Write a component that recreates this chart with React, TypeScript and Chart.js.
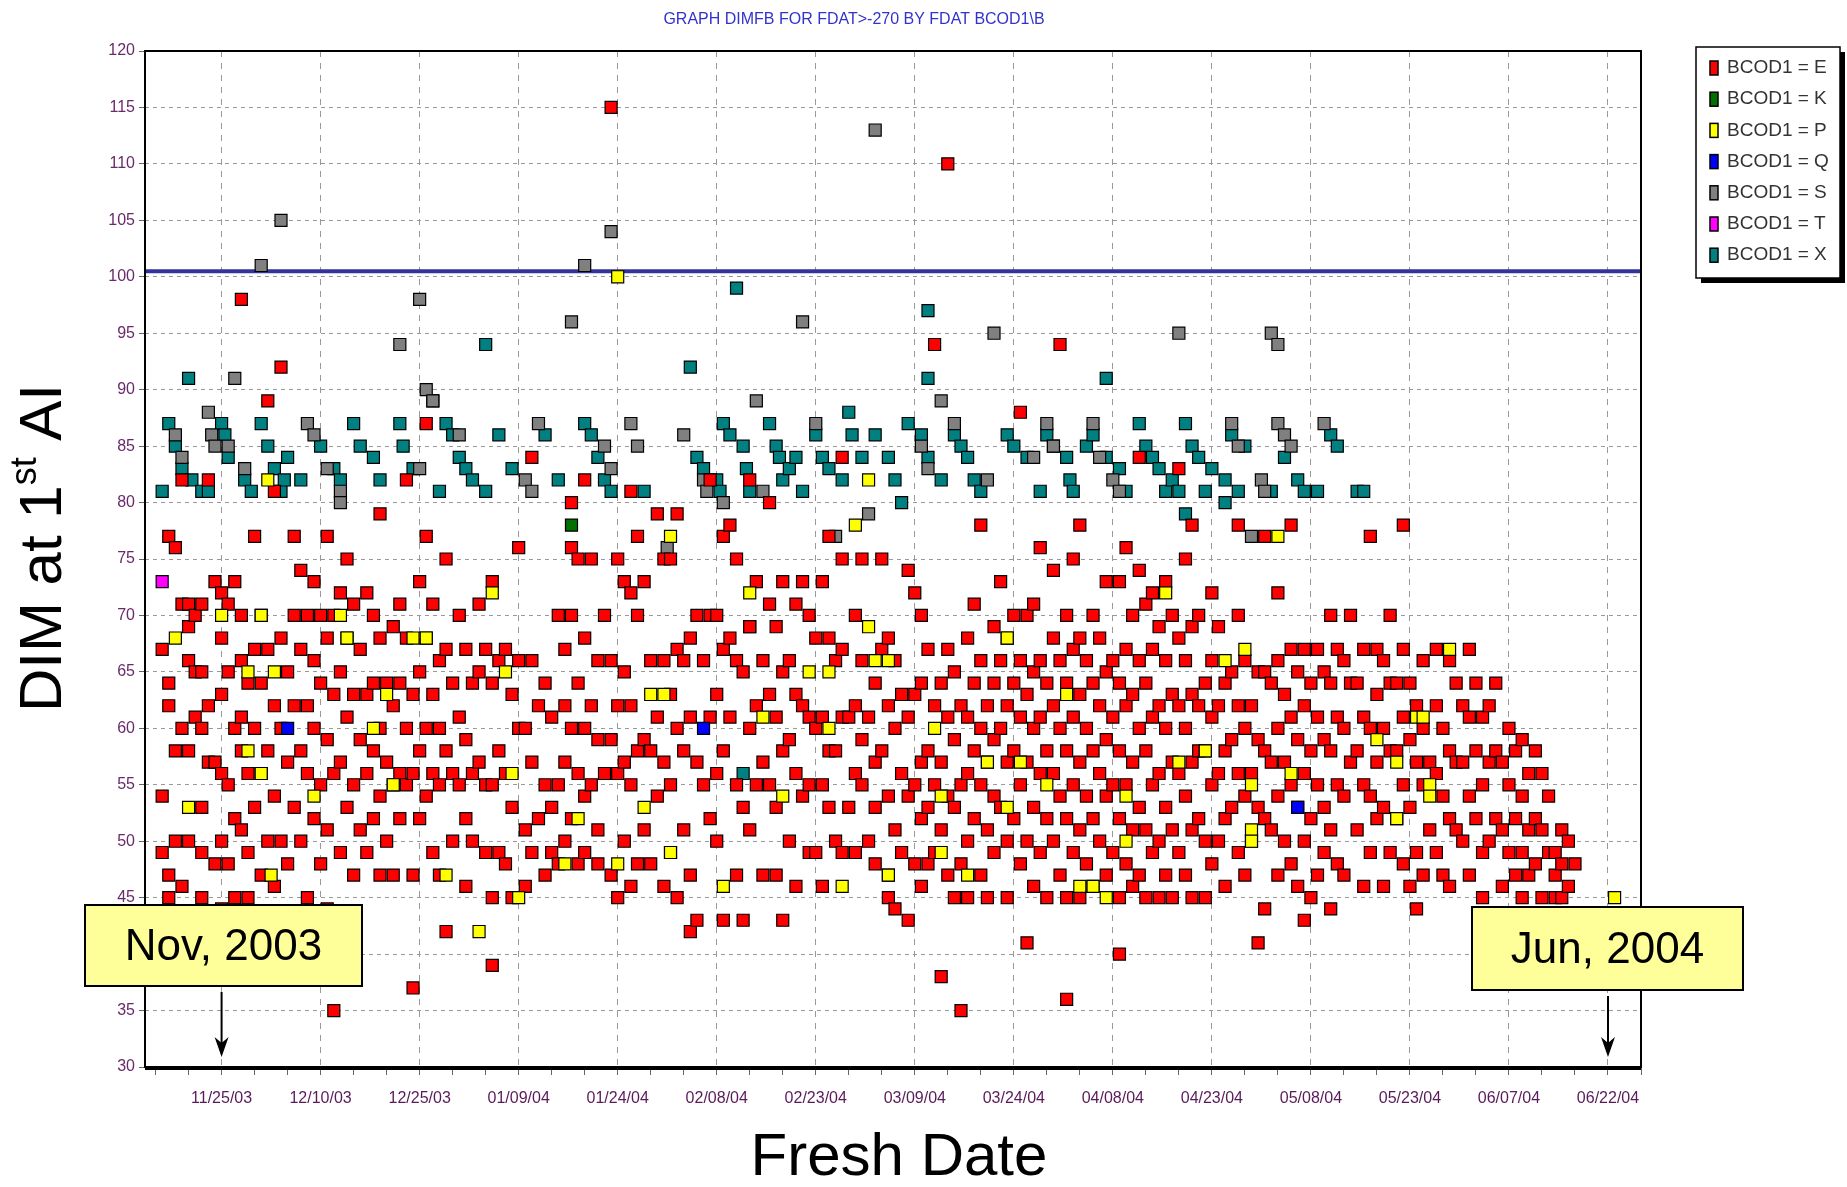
import React, { useEffect, useRef } from "react";
import { Chart, registerables } from "chart.js";
Chart.register(...registerables);

// x = days after 11/25/03, y = DIM at 1st AI
const seriesNames = ["BCOD1 = E", "BCOD1 = K", "BCOD1 = P", "BCOD1 = Q", "BCOD1 = S", "BCOD1 = T", "BCOD1 = X"];
const seriesColors = ["#ff0000", "#007000", "#ffff00", "#0000ff", "#808080", "#ff00ff", "#008080"];

// E values grouped by day column
const eColumns: [number, number[]][] = [
  [-9,[67,54,49]],[-8,[77,64,62,47,45]],[-7,[76,58,50]],[-6,[71,60,46,82]],[-5,[71,66,58,50,69]],[-4,[70,65,61]],
  [-3,[71,65,60,53,49,45]],[-2,[62,57,82]],[-1,[73,57,48]],[0,[72,68,63,56,50,44]],[1,[71,65,55,48]],[2,[73,60,52,45]],
  [3,[98,70,66,61,58,51]],[4,[64,56,49,45]],[5,[77,67,60,53]],[6,[70,64,56,47]],[7,[89,67,58,50]],[8,[81,62,54,46]],
  [9,[92,68,60,50]],[10,[65,57,48]],[11,[77,70,62,53]],[12,[74,67,58,50]],[13,[70,62,56,45]],[14,[73,66,60,52]],
  [15,[70,64,55,48]],[16,[77,68,59,51,44]],[17,[35,70,63,56]],[18,[72,65,57,49]],[19,[75,68,61,53]],[20,[71,63,55,47]],
  [21,[67,59,51]],[22,[72,63,56,49]],[23,[70,64,58,52]],[24,[79,68,60,54,47]],[25,[64,57,50]],[26,[69,62,55,47]],
  [27,[71,64,56,52]],[28,[82,68,60,55]],[29,[37,63,56,47]],[30,[73,65,58,52]],[31,[87,77,68,60,54]],[32,[71,63,56,49]],
  [33,[66,60,55,47]],[34,[42,75,67,58]],[35,[64,56,50]],[36,[70,61,55]],[37,[67,59,52,46]],[38,[64,56,50]],
  [39,[71,65,57]],[40,[67,55,49]],[41,[39,73,64,55,45]],[42,[66,58,49]],[43,[67,56,48]],[44,[63,53,45]],
  [45,[76,66,60]],[46,[60,51,46]],[47,[84,66,57,49]],[48,[62,52]],[49,[64,55,47]],[50,[61,53,49]],
  [51,[70,55,48]],[52,[67,62,57,50]],[53,[80,76,70,60,52]],[54,[75,64,56,48]],[55,[82,68,60,54,49]],[56,[75,62,55]],
  [57,[66,59,51,48]],[58,[70,56]],[59,[115,66,59,47]],[60,[75,62,56,45]],[61,[73,65,57,50]],[62,[81,72,62,55,46]],
  [63,[77,70,58,48]],[64,[73,59,51]],[65,[66,58,48]],[66,[79,61,54]],[67,[75,66,57,46]],[68,[75,63,55,49]],
  [69,[79,67,60,45]],[70,[66,58,51]],[71,[68,61,42,47]],[72,[70,57,43]],[73,[66,55]],[74,[82,70,61,52]],
  [75,[70,63,56,50]],[76,[77,67,58,43]],[77,[78,68,61]],[78,[75,66,55,47]],[79,[65,53,43]],[80,[82,69,60,51]],
  [81,[73,62,55]],[82,[66,57,47]],[83,[80,71,63,55]],[84,[69,61,53,47]],[85,[73,65,58,43]],[86,[66,59,50]],
  [87,[71,63,56,46]],[88,[73,62,54]],[89,[70,61,55,49]],[90,[68,60,49]],[91,[73,61,55,46]],[92,[77,68,58,53]],
  [93,[66,58,50]],[94,[84,75,67,61,49]],[95,[61,53]],[96,[70,62,56,49]],[97,[75,66,59,55]],[98,[61,50]],
  [99,[64,57,53,48]],[100,[75,67,58]],[101,[68,62,54,47,45]],[102,[66,60,51,44]],[103,[63,56,49]],[104,[74,61,54,43]],
  [105,[72,63,55,48]],[106,[70,64,57,52,46]],[107,[67,58,53,48]],[108,[94,62,55,49]],[109,[38,64,57,51]],[110,[110,67,61,54,47]],
  [111,[65,59,53,45]],[112,[35,62,55,48]],[113,[68,61,56,50,45]],[114,[71,64,58,52]],[115,[78,66,60,55,47]],[116,[62,57,51,45]],
  [117,[69,64,59,54,49]],[118,[73,66,60,53]],[119,[68,62,57,50,45]],[120,[70,64,58,52]],[121,[88,66,61,55,48]],[122,[41,70,63,57,50]],
  [123,[71,65,60,53,46]],[124,[76,66,61,56,49]],[125,[64,58,52,45]],[126,[74,68,62,56,50]],[127,[94,66,60,54,47]],[128,[36,70,64,58,52,45]],
  [129,[75,67,61,55,49]],[130,[78,68,63,57,51,45]],[131,[66,60,54,48]],[132,[70,64,58,52,46]],[133,[68,62,56,50]],[134,[73,65,59,54,47]],
  [135,[66,61,55,49]],[136,[40,73,64,58,52,45]],[137,[76,67,62,55,48]],[138,[70,63,57,51,46]],[139,[84,74,66,60,53,47]],[140,[71,64,58,51,45]],
  [141,[72,67,61,55,49]],[142,[69,62,56,50,45]],[143,[73,66,60,53,47]],[144,[70,63,57,51,45]],[145,[83,68,62,56,49]],[146,[75,66,60,54,47]],
  [147,[78,69,63,57,51,45]],[148,[70,62,58,52]],[149,[64,58,50,45]],[150,[72,66,61,55,48]],[151,[69,62,56,50]],[152,[64,58,52,46]],
  [153,[65,59,53]],[154,[78,70,62,56,49]],[155,[66,60,54,47]],[156,[62,56,50]],[157,[41,65,59,53]],[158,[77,65,58,52,44]],
  [159,[64,57,51]],[160,[72,66,60,54,47]],[161,[63,57,50]],[162,[78,67,61,55,48]],[163,[65,59,53,46]],[164,[67,62,56,50,43]],
  [165,[64,58,52,45]],[166,[67,61,55,47]],[167,[65,59,53,49]],[168,[70,64,58,51,44]],[169,[67,61,55,48]],[170,[66,60,54,47]],
  [171,[70,64,57]],[172,[64,58,51]],[173,[67,61,55,46]],[174,[77,60,54,49]],[175,[67,63,57,52]],[176,[66,60,53,46]],
  [177,[70,64,58,49]],[178,[64,58,52]],[179,[78,67,61,55,48]],[180,[64,59,53,46]],[181,[62,57,49,44]],[182,[66,60,55,47]],
  [183,[57,51]],[184,[67,62,56,49]],[185,[60,54,47]],[186,[66,58,52,46]],[187,[64,57,51]],[188,[62,57,50]],
  [189,[67,61,54,47]],[190,[64,58,52]],[191,[61,55,49,45]],[192,[62,57,50]],[193,[64,58,52]],[194,[57,51,46]],
  [195,[60,55,49]],[196,[58,52,47]],[197,[59,54,49,45]],[198,[56,51,47]],[199,[58,52,48]],[200,[56,51,45]],
  [201,[54,49]],[202,[49,47,45]],[203,[51,48,45]],[204,[50,46]],[205,[48]],
];
const kPoints: [number, number][] = [[53,78]];
const pPoints: [number, number][] = [
  [-7,68],[-5,53],[0,70],[4,65],[4,58],[6,70],[7,82],[8,65],[7.5,47],[6,56],[14,54],[18,70],[19,68],[23,60],[25,63],[26,55],
  [29,68],[31,68],[34,47],[39,42],[41,72],[43,65],[44,56],[45,45],[52,48],[54,52],[60,100],[60,48],[64,53],[65,63],[67,63],
  [68,49],[68,77],[76,46],[80,72],[82,61],[85,54],[89,65],[92,65],[92,60],[94,46],[96,78],[98,82],[98,69],[99,66],[101,66],
  [101,47],[108,60],[109,54],[109,49],[113,47],[116,57],[119,68],[119,53],[121,57],[125,55],[128,63],[130,46],[132,46],[134,45],
  [137,54],[137,50],[143,72],[145,57],[149,58],[152,66],[155,67],[156,55],[156,51],[156,50],[160,77],[162,56],[175,59],[178,52],
  [181,61],[182,61],[183,55],[183,54],[186,67],[211,45],[178,57],
];
const qPoints: [number, number][] = [[10,60],[73,60],[163,53]];
const sPoints: [number, number][] = [
  [-7,86],[-6,84],[-2,88],[-1.5,86],[-1,85],[1,85],[2,91],[3.5,83],[6,101],[9,105],[13,87],[14,86],[16,83],[18,81],[18,80],
  [27,94],[30,98],[31,90],[32,89],[30,83],[36,86],[48,87],[46,82],[47,81],[53,96],[55,101],[59,104],[58,85],[59,83],[62,87],
  [63,85],[67.5,76],[70,86],[73,82],[73.5,81],[76,80],[80,69],[81,89],[82,81],[88,96],[90,87],[93,77],[99,113],[98,79],
  [106,85],[107,83],[109,89],[111,87],[116,82],[117,95],[123,84],[125,87],[126,85],[132,87],[133,84],[135,82],[136,81],
  [145,95],[153,87],[154,85],[156,77],[157.5,82],[158,81],[159,95],[160,87],[160,94],[161,86],[162,85],[167,87],
];
const tPoints: [number, number][] = [[-9,73]];
const xPoints: [number, number][] = [
  [-9,81],[-8,87],[-7,85],[-6,83],[-5,91],[-4.5,82],[-3,81],[-2,81],[0,87],[0.5,86],[1,84],[3.5,82],[4.5,81],[6,87],[7,85],
  [8,83],[9,81],[9.5,82],[10,84],[12,82],[15,85],[17,83],[18,82],[20,87],[21,85],[23,84],[24,82],[27,87],[27.5,85],[29,83],
  [32,89],[33,81],[34,87],[35,86],[36,84],[37,83],[38,82],[40,81],[40,94],[42,86],[44,83],[49,86],[51,82],[55,87],[56,86],
  [57,84],[58,82],[59,81],[64,81],[71,92],[72,84],[73,83],[75,82],[75.5,81],[76,87],[77,86],[78,99],[79,85],[79.5,83],[80,81],
  [83,87],[84,85],[84.5,84],[85,82],[86,83],[87,84],[88,81],[90,86],[91,84],[92,83],[94,82],[95,88],[95.5,86],[97,84],[99,86],
  [101,84],[102,82],[103,80],[104,87],[106,86],[107,84],[107,97],[107,91],[109,82],[111,86],[112,85],[113,84],[114,82],[115,81],
  [119,86],[120,85],[122,84],[124,81],[125,86],[126,85],[128,84],[128.5,82],[129,81],[131,85],[132,86],[134,91],[134,84],[136,83],
  [137,81],[139,87],[140,85],[141,84],[142,83],[143,81],[144,82],[145,81],[146,87],[146,79],[147,85],[148,84],[149,81],[150,83],
  [152,80],[152,82],[153,86],[154,81],[155,85],[159,81],[161,84],[163,82],[164,81],[166,81],[168,86],[169,85],[172,81],[173,81],[79,56],
];
const xTickDays = [0, 15, 30, 45, 60, 75, 90, 105, 120, 135, 150, 165, 180, 195, 210];
const refLine = 100.5;
const titleText = "GRAPH DIMFB FOR FDAT>-270 BY FDAT BCOD1\\B";

const ePoints: [number, number][] = eColumns.flatMap(([d, vs]) => vs.map((v) => [d, v] as [number, number]));
const allSeries = [ePoints, kPoints, pPoints, qPoints, sPoints, tPoints, xPoints];

function fmtDate(day: number) {
  const d = new Date(2003, 10, 25 + day);
  const p = (n: number) => String(n).padStart(2, "0");
  return `${p(d.getMonth() + 1)}/${p(d.getDate())}/${p(d.getFullYear() % 100)}`;
}

export default function App() {
  const ref = useRef<HTMLCanvasElement>(null);
  useEffect(() => {
    const overlay = {
      id: "overlay",
      beforeDatasetsDraw(chart: any) {
        const { ctx, chartArea: a, scales } = chart;
        const y = scales.y.getPixelForValue(refLine);
        ctx.save();
        ctx.strokeStyle = "#333399"; ctx.lineWidth = 4;
        ctx.beginPath(); ctx.moveTo(a.left, y); ctx.lineTo(a.right, y); ctx.stroke();
        ctx.restore();
      },
      afterDraw(chart: any) {
        const { ctx, chartArea: a, scales } = chart;
        ctx.save();
        ctx.strokeStyle = "#000"; ctx.lineWidth = 2;
        ctx.strokeRect(a.left, a.top, a.right - a.left, a.bottom - a.top);
        ctx.lineWidth = 4;
        ctx.beginPath(); ctx.moveTo(a.left, a.bottom + 1); ctx.lineTo(a.right, a.bottom + 1); ctx.stroke();
        ctx.fillStyle = "#3333cc"; ctx.font = "16px 'Liberation Sans', Arial"; ctx.textAlign = "center"; ctx.textBaseline = "middle";
        ctx.fillText(titleText, 854, 20);
        ctx.fillStyle = "#000"; ctx.font = "60px 'Liberation Sans', Arial";
        ctx.fillText("Fresh Date", 899, 1158);
        ctx.save();
        ctx.translate(44, 548); ctx.rotate(-Math.PI / 2);
        ctx.textAlign = "left";
        const p1 = "DIM at 1", sup = "st", p2 = " AI";
        ctx.font = "60px 'Liberation Sans', Arial";
        const w1 = ctx.measureText(p1).width, w3 = ctx.measureText(p2).width;
        ctx.font = "36px 'Liberation Sans', Arial";
        const w2 = ctx.measureText(sup).width;
        let x0 = -(w1 + w2 + w3) / 2;
        ctx.font = "60px 'Liberation Sans', Arial"; ctx.fillText(p1, x0, 0); x0 += w1;
        ctx.font = "36px 'Liberation Sans', Arial"; ctx.fillText(sup, x0, -18); x0 += w2;
        ctx.font = "60px 'Liberation Sans', Arial"; ctx.fillText(p2, x0, 0);
        ctx.restore();
        ctx.fillStyle = "#000"; ctx.fillRect(1701, 52, 144, 231);
        ctx.fillStyle = "#fff"; ctx.fillRect(1696, 47, 144, 231);
        ctx.strokeStyle = "#000"; ctx.lineWidth = 1.5; ctx.strokeRect(1696, 47, 144, 231);
        ctx.font = "19px 'Liberation Sans', Arial"; ctx.textAlign = "left";
        seriesNames.forEach((n, i) => {
          const cy = 68 + i * 31.2;
          ctx.fillStyle = seriesColors[i]; ctx.fillRect(1710, cy - 7, 8, 14);
          ctx.strokeStyle = "#000"; ctx.lineWidth = 1.5; ctx.strokeRect(1710, cy - 7, 8, 14);
          ctx.fillStyle = "#333"; ctx.fillText(n, 1727, cy);
        });
        const boxes = [
          { t: "Nov, 2003", x: 85, y: 905, w: 277, h: 81, day: 0 },
          { t: "Jun, 2004", x: 1472, y: 907, w: 271, h: 83, day: 210 },
        ];
        boxes.forEach((b) => {
          ctx.fillStyle = "#ffff99"; ctx.fillRect(b.x, b.y, b.w, b.h);
          ctx.strokeStyle = "#000"; ctx.lineWidth = 2; ctx.strokeRect(b.x, b.y, b.w, b.h);
          ctx.fillStyle = "#000"; ctx.font = "44px 'Liberation Sans', Arial"; ctx.textAlign = "center";
          ctx.fillText(b.t, b.x + b.w / 2, b.y + b.h / 2 + 2);
          const ax = scales.x.getPixelForValue(b.day);
          ctx.lineWidth = 2;
          ctx.beginPath(); ctx.moveTo(ax, b.y + b.h + 6); ctx.lineTo(ax, a.bottom - 14); ctx.stroke();
          ctx.beginPath(); ctx.moveTo(ax, a.bottom - 10); ctx.lineTo(ax - 7, a.bottom - 30); ctx.lineTo(ax, a.bottom - 24); ctx.lineTo(ax + 7, a.bottom - 30); ctx.closePath();
          ctx.fill();
        });
        ctx.restore();
      },
    };
    const chart = new Chart(ref.current!, {
      type: "scatter",
      data: {
        datasets: allSeries.map((pts, i) => ({
          label: seriesNames[i],
          data: pts.map(([x, y]) => ({ x, y })),
          backgroundColor: seriesColors[i],
          borderColor: "#000",
          borderWidth: 1.2,
          pointStyle: "rect",
          pointRadius: 8.5,
          order: [1, 0, 0, 0, 2, 0, 3][i],
        })),
      },
      options: {
        responsive: false,
        animation: false,
        events: [],
        layout: { padding: { top: 51, right: 206, left: 0, bottom: 0 } },
        plugins: { legend: { display: false }, tooltip: { enabled: false } },
        scales: {
          x: {
            type: "linear", min: -11.6, max: 215,
            afterBuildTicks: (s: any) => {
              const t = [];
              for (let d = -10; d <= 215; d += 5) t.push({ value: d });
              s.ticks = t;
            },
            afterFit: (s: any) => { s.height = 120; },
            grid: {
              color: (c: any) => (c.tick && c.tick.value % 15 === 0 ? "#999" : "rgba(0,0,0,0)"),
              tickColor: "#666", tickLength: 8,
            } as any,
            border: { display: false, dash: [6, 6] } as any,
            ticks: {
              autoSkip: false, maxRotation: 0, padding: 14,
              color: "#5a1a5a", font: { size: 16, family: "'Liberation Sans', Arial" },
              callback: (v: any) => (xTickDays.includes(v) ? fmtDate(v) : ""),
            },
          },
          y: {
            min: 30, max: 120,
            afterFit: (s: any) => { s.width = 145; },
            grid: { color: "#999", tickColor: "#666", tickLength: 6 },
            border: { display: false, dash: [4, 4] } as any,
            ticks: { stepSize: 5, color: "#6a2a6a", padding: 4, font: { size: 16, family: "'Liberation Sans', Arial" } },
          },
        },
      },
      plugins: [overlay],
    });
    return () => chart.destroy();
  }, []);
  return (
    <div style={{ position: "fixed", left: 0, top: 0, width: 1847, height: 1187, background: "#fff" }}>
      <canvas ref={ref} width={1847} height={1187} style={{ width: 1847, height: 1187 }} />
    </div>
  );
}
